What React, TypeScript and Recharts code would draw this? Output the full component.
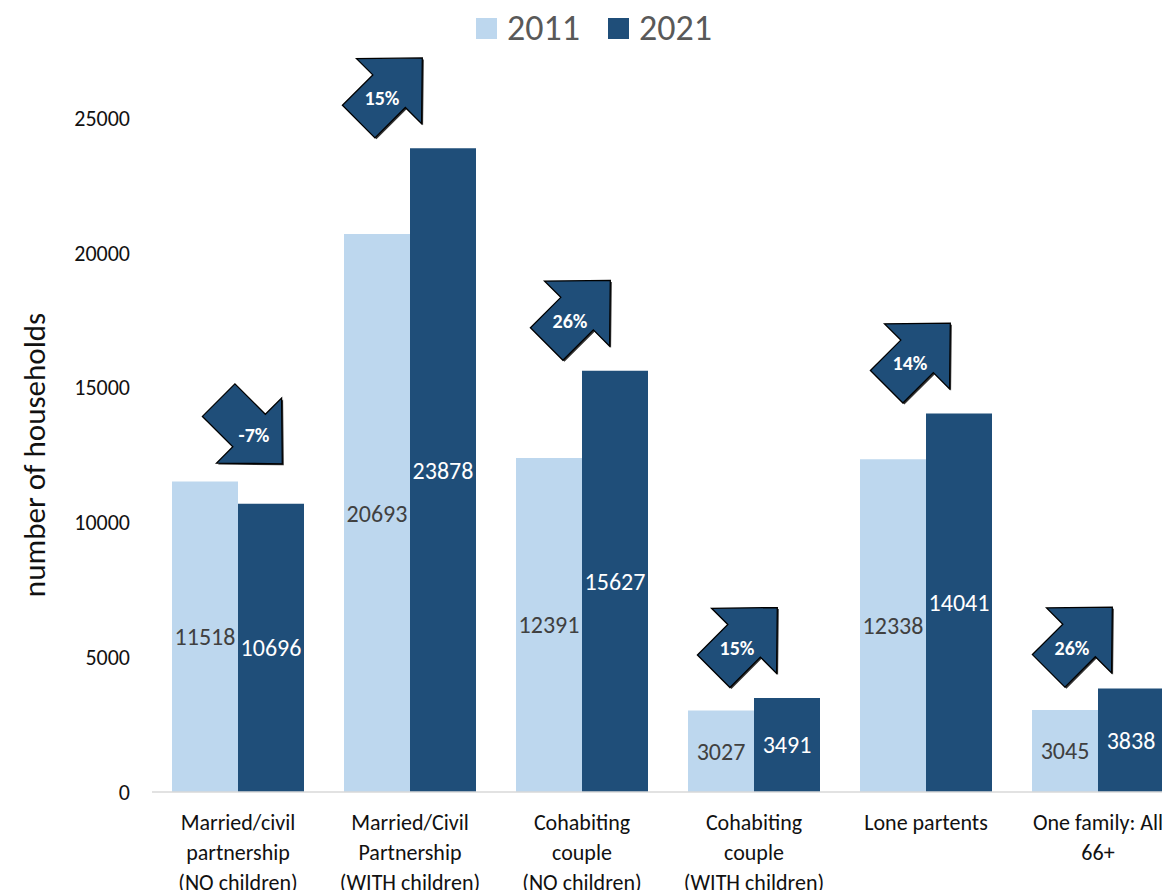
import { BarChart, Bar, XAxis, YAxis, LabelList } from "recharts";

const FONT = "Calibri, Carlito, Lato, sans-serif";

const categories = [
  "Married/civil\npartnership\n(NO children)",
  "Married/Civil\nPartnership\n(WITH children)",
  "Cohabiting\ncouple\n(NO children)",
  "Cohabiting\ncouple\n(WITH children)",
  "Lone partents",
  "One family: All\n66+",
];
const households2011 = [11518, 20693, 12391, 3027, 12338, 3045];
const households2021 = [10696, 23878, 15627, 3491, 14041, 3838];
const changeLabels = ["-7%", "15%", "26%", "15%", "14%", "26%"];
const yTicks = [0, 5000, 10000, 15000, 20000, 25000];

const LIGHT = "#BDD7EE";
const DARK = "#1F4E79";

// hand placement of the arrow call-outs, as in the original slide
const arrowNudge = [
  [0, 0],
  [-16, 0],
  [0, 0],
  [-5, 0],
  [-4, 0],
  [-14, 9],
];

const data = categories.map((name, i) => ({
  name,
  y2011: households2011[i],
  y2021: households2021[i],
  change: changeLabels[i],
}));

const CategoryTick = (props: any) => {
  const { x, y, payload } = props;
  const lines = String(payload.value).split("\n");
  return (
    <text x={x} y={y} textAnchor="middle" fill="#111" fontSize={22} fontFamily={FONT}>
      {lines.map((line, i) => (
        <tspan key={i} x={x} dy={i === 0 ? 38 : 30}>
          {line}
        </tspan>
      ))}
    </text>
  );
};

const YTitle = (props: any) => {
  const vb = props.viewBox;
  const cy = vb && vb.height ? vb.y + vb.height / 2 : 455;
  const cx = 34;
  return (
    <text
      x={cx}
      y={cy}
      transform={`rotate(-90 ${cx} ${cy})`}
      textAnchor="middle"
      dominantBaseline="central"
      fontSize={31}
      fill="#111"
      fontFamily={FONT}
    >
      number of households
    </text>
  );
};

// block arrow pointing up, centred so that its bounding box is centred after a 45deg turn
const ARROW_PATH = "M0,-57 L46,-10 L23,-10 L23,33 L-23,33 L-23,-10 L-46,-10 Z";

const ChangeArrow = (props: any) => {
  const box = props.viewBox && props.viewBox.height != null ? props.viewBox : props;
  const { x, y, height } = box;
  const { index, value } = props;
  if (index == null || !height) return null;
  const bottom = y + height;
  const pxPerUnit = height / households2021[index];
  const peak = Math.max(households2011[index], households2021[index]);
  const top = bottom - peak * pxPerUnit;
  const down = String(value).startsWith("-");
  const [nx, ny] = arrowNudge[index] || [0, 0];
  const cx = x - (down ? -4 : 12) + nx;
  const cy = top - (down ? 58 : 50) + ny;
  const turn = `rotate(${down ? 135 : 45})`;
  return (
    <g>
      <path
        d={ARROW_PATH}
        transform={`translate(${cx + 1.5} ${cy + 1.5}) ${turn}`}
        fill="#000"
        opacity={0.8}
      />
      <path
        d={ARROW_PATH}
        transform={`translate(${cx} ${cy}) ${turn}`}
        fill={DARK}
        stroke="#000"
        strokeWidth={1.3}
      />
      <text
        x={cx + (down ? 12 : 0)}
        y={cy + (down ? 12 : 0)}
        textAnchor="middle"
        dominantBaseline="central"
        fill="#fff"
        fontWeight="bold"
        fontSize={20}
        fontFamily={FONT}
      >
        {value}
      </text>
    </g>
  );
};

const LegendBox = () => (
  <div
    style={{
      position: "absolute",
      left: 476,
      top: 6,
      display: "flex",
      alignItems: "center",
      fontFamily: FONT,
      fontSize: 36,
      color: "#595959",
    }}
  >
    <span style={{ width: 21, height: 21, background: LIGHT, display: "inline-block" }} />
    <span style={{ marginLeft: 10, marginRight: 28 }}>2011</span>
    <span style={{ width: 21, height: 21, background: DARK, display: "inline-block" }} />
    <span style={{ marginLeft: 10 }}>2021</span>
  </div>
);

export default function App() {
  return (
    <div
      style={{
        position: "fixed",
        left: 0,
        top: 0,
        width: 1162,
        height: 890,
        overflow: "hidden",
        background: "#fff",
      }}
    >
      <LegendBox />
      <BarChart
        width={1200}
        height={890}
        data={data}
        margin={{ top: 118, right: 16, bottom: 0, left: 0 }}
        barCategoryGap={20}
        barGap={0}
      >
        <XAxis
          dataKey="name"
          interval={0}
          height={98}
          tickLine={false}
          tickSize={0}
          tickMargin={0}
          axisLine={{ stroke: "#D9D9D9", strokeWidth: 1.5 }}
          tick={<CategoryTick />}
        />
        <YAxis
          width={152}
          domain={[0, 25000]}
          ticks={yTicks}
          axisLine={false}
          tickLine={false}
          tickSize={0}
          tickMargin={22}
          tick={{ fontSize: 22, fill: "#111", fontFamily: FONT }}
          label={<YTitle />}
        />
        <Bar dataKey="y2011" fill={LIGHT} isAnimationActive={false}>
          <LabelList
            dataKey="y2011"
            position="center"
            fill="#404040"
            fontSize={24}
            fontFamily={FONT}
          />
        </Bar>
        <Bar dataKey="y2021" fill={DARK} isAnimationActive={false}>
          <LabelList
            dataKey="y2021"
            position="center"
            fill="#fff"
            fontSize={24}
            fontFamily={FONT}
          />
          <LabelList dataKey="change" content={<ChangeArrow />} />
        </Bar>
      </BarChart>
    </div>
  );
}
